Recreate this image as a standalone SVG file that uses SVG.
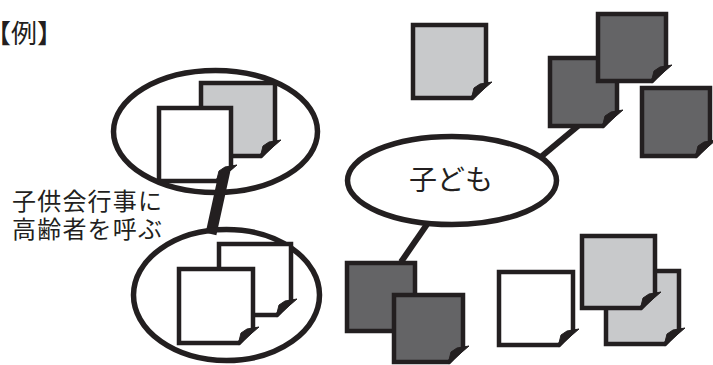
<svg xmlns="http://www.w3.org/2000/svg" width="713" height="365" viewBox="0 0 713 365">
<style>
.note{stroke:#231f20;stroke-width:4.5;stroke-linejoin:miter}
.w{fill:#ffffff}
.lg{fill:#c8c9cb}
.dg{fill:#646466}
.flap{fill:#231f20;stroke:#231f20;stroke-width:1;stroke-linejoin:round}
.ell{fill:#ffffff;stroke:#231f20;stroke-width:5.5}
.ellnf{fill:none;stroke:#231f20;stroke-width:5.5}
.conn{stroke:#231f20;fill:none}
.t{font-family:"Noto Sans CJK JP","Noto Sans CJK SC",sans-serif;fill:#231f20}
</style>
<rect width="713" height="365" fill="#ffffff"/>
<text class="t" x="-15" y="43" font-size="26">【例】</text>
<text class="t" font-size="24" letter-spacing="1.2"><tspan x="12" y="210">子供会行事に</tspan><tspan x="12" y="238">高齢者を呼ぶ</tspan></text>
<g id="connectors">
<line class="conn" x1="225" y1="170" x2="211" y2="234" stroke-width="11"/>
<line class="conn" x1="542" y1="156" x2="578" y2="126" stroke-width="6"/>
<line class="conn" x1="430" y1="220" x2="401" y2="262" stroke-width="6"/>
</g>
<g id="upper-group">
<ellipse class="ellnf" cx="215.5" cy="131.5" rx="102" ry="61"/>
<g id="upper-gray">
<path class="note lg" d="M201 83 H275 V142 L261 156 H201 Z"/>
<path class="flap" d="M260 158 L263 146 L269 142 L281 140 Z"/>
</g>
<g id="upper-white">
<path class="note w" d="M159 108 H231 V167 L217 181 H159 Z"/>
<path class="flap" d="M216 183 L219 171 L225 167 L237 165 Z"/>
</g>
</g>
<g id="lower-group">
<ellipse class="ellnf" cx="226.5" cy="295" rx="93" ry="65.5"/>
<g id="lower-back">
<path class="note w" d="M219 244 H291 V301 L277 315 H219 Z"/>
<path class="flap" d="M276 317 L279 305 L285 301 L297 299 Z"/>
</g>
<g id="lower-front">
<path class="note w" d="M179 269 H253 V329 L239 343 H179 Z"/>
<path class="flap" d="M238 345 L241 333 L247 329 L259 327 Z"/>
</g>
</g>
<g id="kodomo">
<ellipse class="ell" cx="452" cy="180.5" rx="104.5" ry="44"/>
<text class="t" x="451" y="190" font-size="28" text-anchor="middle">子ども</text>
</g>
<g id="gray-single">
<path class="note lg" d="M413 25 H486 V84 L472 98 H413 Z"/>
<path class="flap" d="M471 100 L474 88 L480 84 L492 82 Z"/>
</g>
<g id="dark-mid">
<path class="note dg" d="M550 58 H617 V112 L603 126 H550 Z"/>
<path class="flap" d="M602 128 L605 116 L611 112 L623 110 Z"/>
</g>
<g id="dark-top">
<path class="note dg" d="M598 14 H666 V67 L652 81 H598 Z"/>
<path class="flap" d="M651 83 L654 71 L660 67 L672 65 Z"/>
</g>
<g id="dark-right">
<path class="note dg" d="M642 88 H710 V142 L696 156 H642 Z"/>
<path class="flap" d="M695 158 L698 146 L704 142 L716 140 Z"/>
</g>
<g id="dark-bottom-a">
<path class="note dg" d="M347 263 H415 V317 L401 331 H347 Z"/>
<path class="flap" d="M400 333 L403 321 L409 317 L421 315 Z"/>
</g>
<g id="dark-bottom-b">
<path class="note dg" d="M394 295 H463 V348 L449 362 H394 Z"/>
<path class="flap" d="M448 364 L451 352 L457 348 L469 346 Z"/>
</g>
<g id="white-single">
<path class="note w" d="M499 272 H573 V331 L559 345 H499 Z"/>
<path class="flap" d="M558 347 L561 335 L567 331 L579 329 Z"/>
</g>
<g id="light-back">
<path class="note lg" d="M606 271 H679 V330 L665 344 H606 Z"/>
<path class="flap" d="M664 346 L667 334 L673 330 L685 328 Z"/>
</g>
<g id="light-front">
<path class="note lg" d="M582 236 H655 V294 L641 308 H582 Z"/>
<path class="flap" d="M640 310 L643 298 L649 294 L661 292 Z"/>
</g>
</svg>
